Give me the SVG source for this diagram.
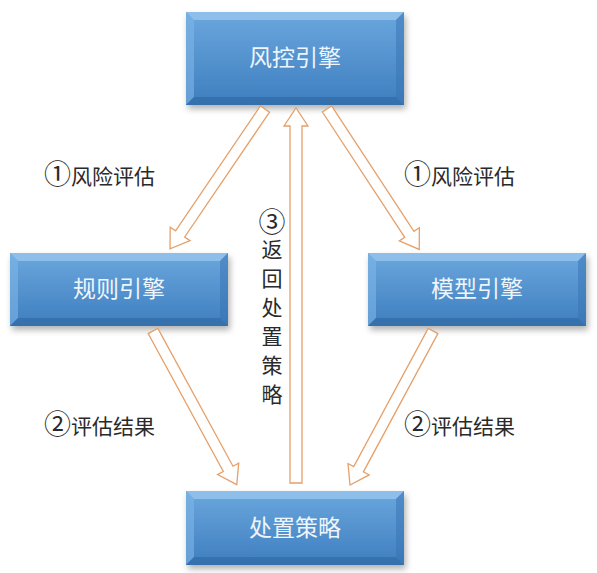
<svg xmlns="http://www.w3.org/2000/svg" width="597" height="573" viewBox="0 0 597 573">
  <defs>
    <linearGradient id="boxg" x1="0" y1="0" x2="0" y2="1">
      <stop offset="0" stop-color="#6BA7DE"/>
      <stop offset="1" stop-color="#3E7EBF"/>
    </linearGradient>
    <filter id="sh" x="-10%" y="-10%" width="130%" height="140%">
      <feDropShadow dx="2" dy="4" stdDeviation="3" flood-color="#000" flood-opacity="0.3"/>
    </filter>
  </defs>
  <style>
    .box { fill: url(#boxg); }
    .bt { fill: #9CCBF0; opacity: 0.7; }
    .bl { fill: #7FB5E6; opacity: 0.6; }
    .br { fill: #3672B2; opacity: 0.5; }
    .bb { fill: #2F679F; opacity: 0.6; }
    .bx { font-family: "Noto Sans CJK SC", "Noto Sans", sans-serif; font-size: 23px; fill: #EEF5FB; text-anchor: middle; }
    .lb { font-family: "Noto Sans CJK SC", "Noto Sans", sans-serif; font-size: 21px; fill: #2a2a2a; }
    .cn { font-size: 27px; }
    .vt { font-family: "Noto Sans CJK SC", "Noto Sans", sans-serif; font-size: 21px; fill: #2a2a2a; writing-mode: vertical-rl; letter-spacing: 8px; }
    .ar { fill: #fff; stroke: #E6A06A; stroke-width: 1.3; stroke-linejoin: miter; }
  </style>
  <rect width="597" height="573" fill="#fff"/>

  <g id="n-fengkong">
    <g filter="url(#sh)"><rect class="box" x="186" y="12" width="218" height="93"/></g>
    <polygon class="bt" points="186,12 404,12 396,20 194,20"/>
    <polygon class="bl" points="186,12 194,20 194,97 186,105"/>
    <polygon class="br" points="404,12 404,105 396,97 396,20"/>
    <polygon class="bb" points="186,105 194,97 396,97 404,105"/>
    <text class="bx" x="295" y="66">风控引擎</text>
  </g>

  <g id="n-guize">
    <g filter="url(#sh)"><rect class="box" x="10" y="253" width="218" height="73"/></g>
    <polygon class="bt" points="10,253 228,253 220,261 18,261"/>
    <polygon class="bl" points="10,253 18,261 18,318 10,326"/>
    <polygon class="br" points="228,253 228,326 220,318 220,261"/>
    <polygon class="bb" points="10,326 18,318 220,318 228,326"/>
    <text class="bx" x="119" y="297">规则引擎</text>
  </g>

  <g id="n-moxing">
    <g filter="url(#sh)"><rect class="box" x="368" y="253" width="218" height="73"/></g>
    <polygon class="bt" points="368,253 586,253 578,261 376,261"/>
    <polygon class="bl" points="368,253 376,261 376,318 368,326"/>
    <polygon class="br" points="586,253 586,326 578,318 578,261"/>
    <polygon class="bb" points="368,326 376,318 578,318 586,326"/>
    <text class="bx" x="477" y="297">模型引擎</text>
  </g>

  <g id="n-chuzhi">
    <g filter="url(#sh)"><rect class="box" x="186" y="491" width="218" height="74"/></g>
    <polygon class="bt" points="186,491 404,491 396,499 194,499"/>
    <polygon class="bl" points="186,491 194,499 194,557 186,565"/>
    <polygon class="br" points="404,491 404,565 396,557 396,499"/>
    <polygon class="bb" points="186,565 194,557 396,557 404,565"/>
    <text class="bx" x="295" y="536">处置策略</text>
  </g>

  <g id="connectors">
    <polygon class="ar" transform="translate(265,109) rotate(124.2)" points="0,-5.5 151,-5.5 151,-12 169,0 151,12 151,5.5 0,5.5"/>
    <polygon class="ar" transform="translate(327,109) rotate(56.7)" points="0,-5.5 150,-5.5 150,-12 168,0 150,12 150,5.5 0,5.5"/>
    <polygon class="ar" transform="translate(296,483) rotate(-90)" points="0,-6 357,-6 357,-12 375,0 357,12 357,6 0,6"/>
    <polygon class="ar" transform="translate(153,331) rotate(61.4)" points="0,-5.5 157,-5.5 157,-12 175,0 157,12 157,5.5 0,5.5"/>
    <polygon class="ar" transform="translate(433,331) rotate(118.3)" points="0,-5.5 157,-5.5 157,-12 175,0 157,12 157,5.5 0,5.5"/>
  </g>

  <g id="labels">
    <text class="lb" x="44" y="184"><tspan class="cn">①</tspan>风险评估</text>
    <text class="lb" x="404" y="184"><tspan class="cn">①</tspan>风险评估</text>
    <text class="lb" x="44" y="434"><tspan class="cn">②</tspan>评估结果</text>
    <text class="lb" x="404" y="434"><tspan class="cn">②</tspan>评估结果</text>
    <text class="vt" x="272" y="208"><tspan class="cn" letter-spacing="4px">③</tspan>返回处置策略</text>
  </g>
</svg>
